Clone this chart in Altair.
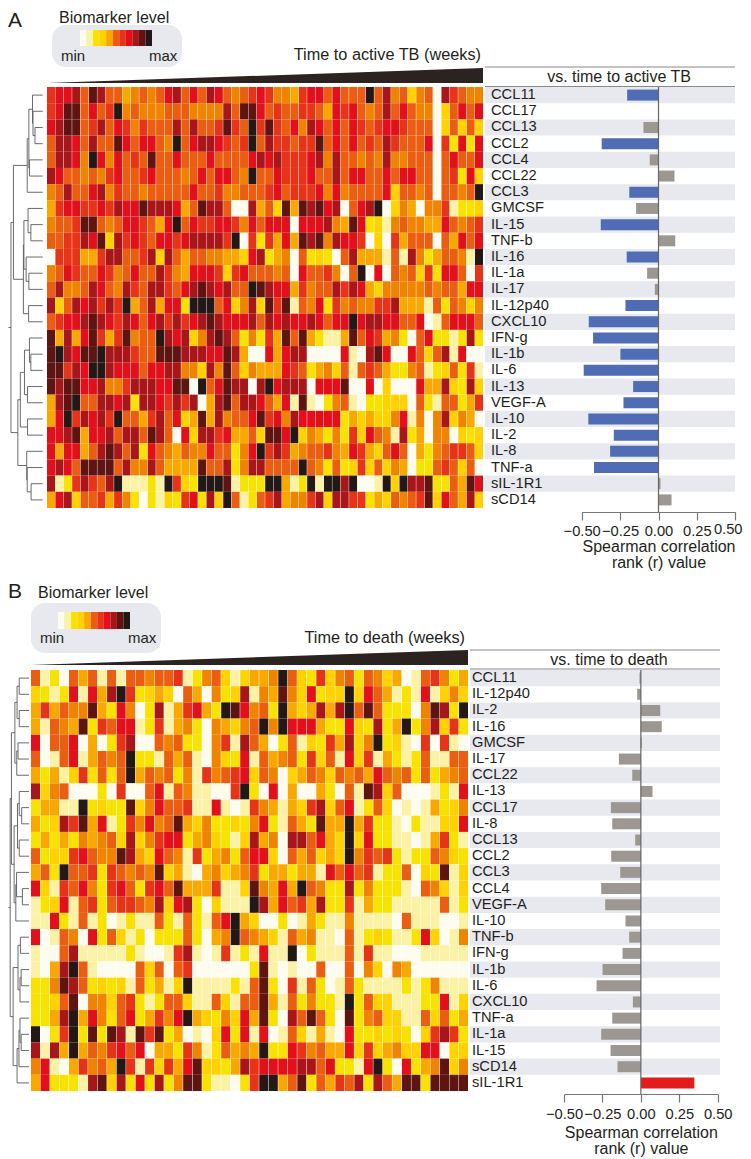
import altair as alt
import pandas as pd

FONT = "Liberation Sans"
INK = "#231F20"
H = 1150

# ---- colour levels (0 = min ... b = max) ----
LEVELS = list("0123456789ab")
LEVEL_COLORS = ["#FEFCEE", "#FBF2A6", "#F8E300", "#FFD200", "#F9A800", "#F08300",
                "#EB5E12", "#E73318", "#E30F1B", "#A8161A", "#5E1410", "#231815"]
LEGEND_LEVELS_A = list("01234678" + "9ab")

# ---- panel A ----
ROWS_A = ["CCL11", "CCL17", "CCL13", "CCL2", "CCL4", "CCL22", "CCL3", "GMCSF", "IL-15", "TNF-b",
          "IL-16", "IL-1a", "IL-17", "IL-12p40", "CXCL10", "IFN-g", "IL-1b", "IL-6", "IL-13",
          "VEGF-A", "IL-10", "IL-2", "IL-8", "TNF-a", "sIL-1R1", "sCD14"]
R_A = [-0.204, 0.0, -0.098, -0.37, -0.057, 0.104, -0.19, -0.146, -0.376, 0.109, -0.207, -0.074,
       -0.024, -0.215, -0.454, -0.426, -0.248, -0.487, -0.165, -0.228, -0.457, -0.291, -0.315,
       -0.42, 0.013, 0.085]
SIG_A = ["neg", "ns", "ns", "neg", "ns", "ns", "neg", "ns", "neg", "ns", "neg", "ns", "ns", "neg",
         "neg", "neg", "neg", "neg", "neg", "neg", "neg", "neg", "neg", "neg", "ns", "ns"]
HEAT_A = [
 "7889 6a96 6456 5689 6869 8656 7875 5478 8686 66b6 9563 5609 7655",
 "78aa 6867 b565 5566 6555 596a a867 6677 6487 8656 9686 5503 6868",
 "89aa 6796 8757 6669 6966 7a76 b7a7 6859 8686 8767 8876 6603 6363",
 "6998 6966 a868 865b 6899 8767 b697 7677 a686 8676 9766 6807 2828",
 "6998 5b85 8676 a668 6668 6666 8989 7778 9596 6565 9556 6606 8668",
 "9866 5657 8667 8666 5686 8865 b668 7778 6696 8866 8688 6606 7283",
 "5696 6895 7665 6666 6866 7556 6678 6777 8585 6666 8366 5606 656b",
 "4788 7787 988a 9998 46a9 9600 9463 a4a9 a890 689b 0354 0557 1223",
 "5667 aa65 6887 648b 6877 8875 8688 8088 8954 a823 1565 5448 6567",
 "6677 98a3 9787 6887 8999 97b0 7274 84a9 a598 8703 0746 6606 4868",
 "0777 4479 9667 9396 4665 5443 8924 5062 3206 9444 1619 5246 651b",
 "5687 6687 5686 6975 4888 7378 6665 6086 6750 6b08 0656 3728 8607",
 "6955 6986 5976 9976 89a9 8966 ba98 8475 6697 9843 5555 5656 6488",
 "9369 8979 7b46 9488 2bbb 6835 93a7 a165 8275 6557 7944 4162 6535",
 "6788 9a98 7986 8979 789a 9888 9698 9889 8688 b899 8866 8016 8886",
 "a494 8a74 7a56 6b98 9359 a962 5274 a6a4 2114 a687 4520 6822 1292",
 "ab98 aab9 9976 6aaa 9998 8a94 0084 8990 0008 109a 8008 6369 1800",
 "aa79 8bb9 8886 8899 5539 5a63 5444 8762 4536 1676 4225 6123 6271",
 "a9aa 8895 5799 988a a0b6 8a99 09b8 9990 888a 0080 3000 8449 3293",
 "49ab 6699 8929 9879 7904 9a69 9864 81a1 0256 1022 3330 6216 6247",
 "48b7 9897 b664 7968 34a4 9566 8a78 5988 8882 4343 3581 5059 3540",
 "889a 4889 6996 a960 8399 7844 63aa 8b35 4252 7386 5192 4055 0323",
 "8488 469a 9692 8654 6558 6625 8b79 7456 6754 8743 6860 4256 7763",
 "8986 aaaa 6955 9644 44a6 6925 9966 66b6 5262 3736 3540 2267 6360",
 "9127 9769 b111 21b7 32bb ba12 22bb 412b 1bb9 b001 b3b9 9a22 64a8",
 "4893 6674 7520 2132 7829 3b61 2679 4557 9399 7724 3656 7a38 6493",
]
TREE_A = (38.3,
          (35.3,
           (18.7, (16.7, (12.3, 0, (11.7, 1, (9.3, 2, 3))), (16, 4, 5)), 6),
           (23.3, (22.7, (17.7, 7, (14.3, 8, 9)), (20, 10, (16.7, 11, 12))), (17, 13, 14))),
          (30,
           (27, (22, (16, 15, (14.3, 16, 17)), (18.3, 18, 19)), (18.3, 20, 21)),
           (19.3, 22, (18.7, 23, (14, 24, 25)))))

# ---- panel B ----
ROWS_B = ["CCL11", "IL-12p40", "IL-2", "IL-16", "GMCSF", "IL-17", "CCL22", "IL-13", "CCL17", "IL-8",
          "CCL13", "CCL2", "CCL3", "CCL4", "VEGF-A", "IL-10", "TNF-b", "IFN-g", "IL-1b", "IL-6",
          "CXCL10", "TNF-a", "IL-1a", "IL-15", "sCD14", "sIL-1R1"]
R_B = [-0.009, -0.024, 0.126, 0.136, 0.006, -0.143, -0.056, 0.076, -0.195, -0.186, -0.037, -0.193,
       -0.134, -0.258, -0.232, -0.10, -0.076, -0.119, -0.249, -0.288, -0.052, -0.186, -0.258,
       -0.197, -0.152, 0.348]
SIG_B = ["ns"] * 25 + ["pos"]
HEAT_B = [
 "6120 6461 6166 5667 1256 3134 45b6 3273 5626 5340 1675 24",
 "3212 8184 9b72 3430 6405 2391 54a5 3823 3b38 6412 1813 53",
 "4746 55a4 2850 2914 7842 ba85 62b4 3494 9b6a 6222 05a9 2b",
 "4165 4a27 6881 2714 5205 4356 b5b8 8842 2832 924b 2593 72",
 "8066 8040 2790 0656 2205 7196 4026 1327 4935 b231 0707 10",
 "6016 8146 56b2 2164 6105 3281 6456 2736 1837 1421 2611 66",
 "4241 3726 26b4 6562 5175 6783 6503 4653 6564 8656 2624 56",
 "9356 0002 0700 6816 5110 07b2 0804 0042 061a 9360 0012 18",
 "2441 1b23 22a3 5866 7118 1017 5414 3793 6812 6301 0142 35",
 "4239 7a48 1275 856a 4352 2325 8216 42a4 4b47 2210 2113 38",
 "2424 2545 6393 5788 2453 2139 4509 9684 3b38 2211 0147 21",
 "6233 7865 5a94 3865 1724 5268 8306 4634 3b57 6721 2265 32",
 "462b 6672 7656 5a34 1045 3457 2442 4418 6867 1226 032a 13",
 "8317 6852 7862 786a 4447 113a 5484 b652 2925 2221 0653 13",
 "1238 1672 6776 5938 9203 111b 9486 7492 2714 2211 1116 12",
 "1182 1612 0121 1621 6216 8b43 0020 1421 1511 1106 1110 01",
 "8016 5082 6312 0222 6204 5b65 4316 4511 0612 3211 2830 15",
 "1006 9111 1121 0017 9101 7121 811b 0211 1617 1100 0111 11",
 "1049 b610 0006 3606 7000 0002 a101 0060 0605 3054 0000 00",
 "225a 9623 2316 2413 b111 1216 a207 1620 1621 1112 1251 11",
 "2236 a055 3672 1266 3116 3166 a416 2522 1b26 3311 1228 13",
 "2249 b485 2682 4758 b432 5384 a209 6a62 0a25 6331 1636 24",
 "b027 b2a2 a91a 7a24 0103 8281 8016 3141 0822 3232 0379 72",
 "9194 b465 7868 0442 7512 6454 b228 7564 4837 3453 3880 33",
 "5810 4756 4b71 7374 8a33 2497 8888 9968 2218 b208 245a 35",
 "4822 219a 3928 2925 aa21 1027 bb46 a264 7692 964a a2aa aa",
]
TREE_B = (25.7,
          (24,
           (19.3, (16.3, (13.3, 0, 1), (13.3, 2, 3)), (16.7, (15, 4, 5), 6)),
           (20.3, (15.7, (13.3, 7, (10, 8, 9)), (13.3, 10, 11)), (18, (17, 12, (9, 13, 14)), 15))),
          (21.7,
           (15, (11.7, 16, 17), (12.3, (10.7, 18, 19), 20)),
           (16.3, (13.7, (12.3, 21, (10.7, 22, 23)), 24), 25)))

BAR_COLORS = {"neg": "#4F6CB4", "ns": "#9D9793", "pos": "#E31B1A"}
TICKS = [-0.5, -0.25, 0, 0.25, 0.5]


def txt(s, px, py, size=16, align="left"):
    return alt.Chart(pd.DataFrame({"t": [s]})).mark_text(
        font=FONT, fontSize=size, align=align, baseline="middle", color=INK
    ).encode(text="t:N", x=alt.value(px - 8), y=alt.value(py - 8))


def hline(x0, x1, py, color="#8A8A8A", w=1.2):
    return alt.Chart(pd.DataFrame({"a": [0]})).mark_rule(color=color, strokeWidth=w).encode(
        x=alt.value(x0 - 8), x2=alt.value(x1 - 8), y=alt.value(py - 8))


def tree_segments(node):
    """Return (y, segments) for a nested (distance, left, right) tree."""
    if not isinstance(node, tuple):
        return node + 0.5, 0, []
    d, l, r = node
    yl, dl, sl = tree_segments(l)
    yr, dr, sr = tree_segments(r)
    segs = sl + sr + [
        dict(d1=d, d2=d, y1=yl, y2=yr),
        dict(d1=dl, d2=d, y1=yl, y2=yl),
        dict(d1=dr, d2=d, y1=yr, y2=yr),
    ]
    return (yl + yr) / 2, d, segs


def panel(rows, rvals, sig, heat, tree, stub, dmap, heat_x, heat_y, band_x, label_x, bar_x, ax_y,
          head_y, head_cx, head_txt, letter, letter_y, leg_title_x, leg_title_y, box, swatch, minmax,
          time_txt, time_x, time_y, wedge_x, wedge_y, label_pad, title_pad, inset_last=False):
    layers = []
    n = len(rows)
    row_scale = alt.Scale(domain=rows, range=[heat_y[0] - 8, heat_y[1] - 8], paddingInner=0, paddingOuter=0)
    grid = []
    for i, line in enumerate(heat):
        line = line.replace(" ", "")
        if i == 0:
            ncol = len(line)
        if len(line) != ncol:
            raise ValueError(f"row {i} has {len(line)} cells, expected {ncol}")
        grid += [dict(row=rows[i], col=j, lev=c) for j, c in enumerate(line)]
    df = pd.DataFrame(grid)
    color_scale = alt.Scale(domain=LEVELS, range=LEVEL_COLORS)
    layers.append(alt.Chart(df).mark_rect().encode(
        x=alt.X("col:O", axis=None, scale=alt.Scale(domain=list(range(ncol)),
                                                    range=[heat_x[0] - 8, heat_x[1] - 8],
                                                    paddingInner=0.05, paddingOuter=0)),
        y=alt.Y("row:N", axis=None, scale=row_scale),
        color=alt.Color("lev:N", scale=color_scale, legend=None)))

    # dendrogram
    ry, rd, segs = tree_segments(tree)
    segs.append(dict(d1=tree[0], d2=stub, y1=ry, y2=ry))
    dx = alt.Scale(domain=[0, stub], range=[dmap[0] - 8, dmap[1] - 8], nice=False, zero=False)
    dy = alt.Scale(domain=[0, n], range=[heat_y[0] - 8, heat_y[1] - 8], nice=False, zero=False)
    layers.append(alt.Chart(pd.DataFrame(segs)).mark_rule(color="#5A5A5A", strokeWidth=0.9).encode(
        x=alt.X("d1:Q", axis=None, scale=dx), x2="d2:Q",
        y=alt.Y("y1:Q", axis=None, scale=dy), y2="y2:Q"))

    # alternating bands
    bands = pd.DataFrame({"row": rows[0::2]})
    layers.append(alt.Chart(bands).mark_rect(color="#E7E9EE").encode(
        x=alt.value(band_x[0] - 8), x2=alt.value(band_x[1] - 8),
        y=alt.Y("row:N", axis=None, scale=row_scale)))

    # correlation bars
    bars = pd.DataFrame({"row": rows, "r": rvals, "sig": sig, "zero": [0.0] * n})
    bar_scale = alt.Scale(domain=[-0.5, 0.5], range=[bar_x[0] - 8, bar_x[1] - 8], nice=False)
    axis_args = dict(
        orient="bottom",
        values=TICKS, format=".2f", grid=False, tickSize=8, tickColor="#777777", domainColor="#777777",
        domainWidth=1.2, tickWidth=1.2, labelFont=FONT, labelFontSize=14.7, labelColor=INK, labelPadding=label_pad,
        labelFlush=False, labelOverlap=False,
        title=["Spearman correlation", "rank (r) value"], titleFont=FONT, titleFontSize=16,
        titleFontWeight="normal", titleColor=INK, titlePadding=title_pad, titleLineHeight=16,
        offset=ax_y - 8 - H)
    if inset_last:
        axis_args["labelExpr"] = "datum.value == 0.5 ? '' : format(datum.value, '.2f')"
    layers.append(alt.Chart(bars).mark_bar(size=11).encode(
        x=alt.X("r:Q", scale=bar_scale, axis=alt.Axis(**axis_args)),
        x2="zero:Q",
        y=alt.Y("row:N", axis=None, scale=row_scale),
        color=alt.Color("sig:N", legend=None, scale=alt.Scale(domain=list(BAR_COLORS), range=list(BAR_COLORS.values())))))
    if inset_last:
        layers.append(txt("0.50", 742.5, ax_y + 18, 14.7, "right"))

    layers.append(alt.Chart(pd.DataFrame({"z": [0.0]})).mark_rule(color="#666666", strokeWidth=1.2).encode(
        x=alt.X("z:Q", scale=bar_scale, axis=None),
        y=alt.value(heat_y[0] - 8), y2=alt.value(ax_y - 8)))

    # row labels
    layers.append(alt.Chart(pd.DataFrame({"row": rows})).mark_text(
        font=FONT, fontSize=14.7, align="left", baseline="middle", color=INK
    ).encode(text="row:N", x=alt.value(label_x - 8), y=alt.Y("row:N", axis=None, scale=row_scale)))

    # header strip
    layers += [hline(band_x[0], band_x[1], head_y[0]), hline(band_x[0], band_x[1], head_y[1]),
               txt(head_txt, head_cx, (head_y[0] + head_y[1]) / 2, 16, "center")]

    # letter and colour key
    layers.append(txt(letter, 8, letter_y, 21))
    layers.append(alt.Chart(pd.DataFrame({"a": [0]})).mark_rect(color="#E7E9EE", cornerRadius=14).encode(
        x=alt.value(box[0] - 8), x2=alt.value(box[1] - 8), y=alt.value(box[2] - 8), y2=alt.value(box[3] - 8)))
    layers.append(txt("Biomarker level", leg_title_x, leg_title_y, 16))
    layers.append(alt.Chart(pd.DataFrame({"lev": LEGEND_LEVELS_A, "pos": range(len(LEGEND_LEVELS_A))})).mark_rect().encode(
        x=alt.X("pos:O", axis=None, scale=alt.Scale(domain=list(range(len(LEGEND_LEVELS_A))),
                                                    range=[swatch[0] - 8, swatch[1] - 8],
                                                    paddingInner=0, paddingOuter=0)),
        y=alt.value(swatch[2] - 8), y2=alt.value(swatch[3] - 8),
        color=alt.Color("lev:N", scale=color_scale, legend=None)))
    layers.append(txt("min", minmax[0], minmax[2], 15))
    layers.append(txt("max", minmax[1], minmax[2], 15))

    # time wedge
    layers.append(txt(time_txt, time_x, time_y, 16.3, "right"))
    wedge = pd.DataFrame({"t": [0.0, 1.0], "h": [0.0, 1.0], "b": [0.0, 0.0]})
    layers.append(alt.Chart(wedge).mark_area(color="#2A2320").encode(
        x=alt.X("t:Q", axis=None, scale=alt.Scale(domain=[0, 1], range=[wedge_x[0] - 8, wedge_x[1] - 8], nice=False)),
        y=alt.Y("h:Q", axis=None, scale=alt.Scale(domain=[0, 1], range=[wedge_y[0] - 8, wedge_y[1] - 8], nice=False)),
        y2="b:Q"))
    return layers


layers = []
layers += panel(ROWS_A, R_A, SIG_A, HEAT_A, TREE_A, 41.3, (42.7, 8.5), (47, 483), (87, 508), (485, 735), 491,
                (581.7, 735.3), 512, (67, 86.5), 619, "vs. time to active TB", "A", 21, 59, 18,
                (52, 182, 25, 67), (80, 152, 30, 46), (61, 149, 56),
                "Time to active TB (weeks)", 481, 55, (47, 483), (83, 68), 3, 1, inset_last=True)
layers += panel(ROWS_B, R_B, SIG_B, HEAT_B, TREE_B, 28, (29, 8.5), (31, 468), (670, 1091), (470, 720), 472,
                (564, 717.7), 1094, (650, 669), 609, "vs. time to death", "B", 592, 38, 593,
                (31, 161, 603, 653), (58, 130, 612, 629), (40, 128, 638),
                "Time to death (weeks)", 465, 638, (31, 468), (665, 650), 4, 4)

chart = alt.layer(*layers).resolve_scale(x="independent", y="independent", color="independent").properties(
    width=735, height=H, padding=0, background="white",
    autosize=alt.AutoSizeParams(type="none")
).configure_view(stroke=None)

chart.save("out.html", embed_options={"renderer": "svg", "actions": False})
